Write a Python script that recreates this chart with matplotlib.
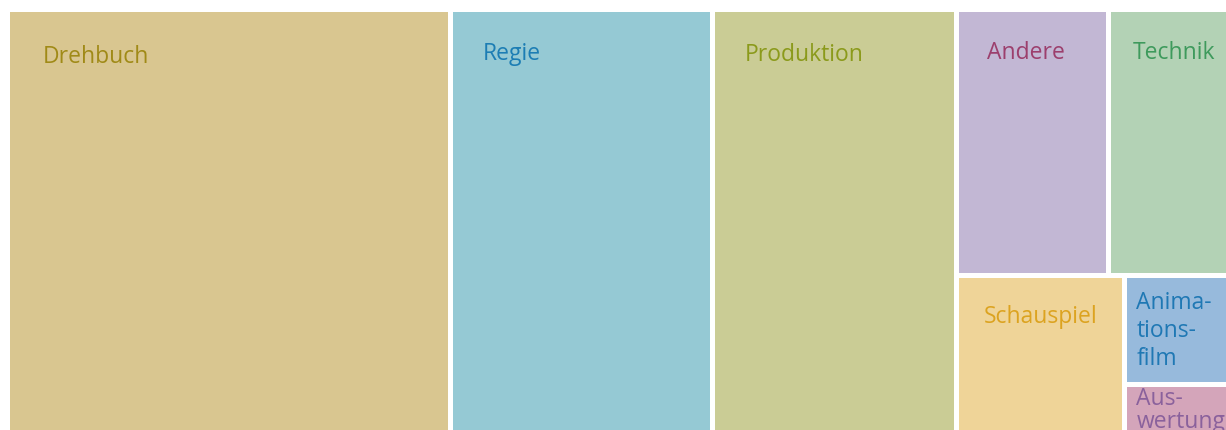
import matplotlib
matplotlib.use("Agg")
import matplotlib.pyplot as plt
from matplotlib.patches import Rectangle

# ---- data (in thousands) ----
names = ["Drehbuch", "Regie", "Produktion", "Andere", "Technik",
         "Schauspiel", "Animationsfilm", "Auswertung"]
values = [197.1, 116.6, 108.6, 40.4, 35.6, 30.2, 12.9, 8.2]
labels = ["Drehbuch", "Regie", "Produktion", "Andere", "Technik",
          "Schauspiel", "Anima-\ntions-\nfilm", "Aus-\nwertung"]

# nesting used by the treemap layout
tree = ["Drehbuch", "Regie", "Produktion",
        [["Andere", "Technik"],
         ["Schauspiel", ["Animationsfilm", "Auswertung"]]]]

# ---- style ----
fills = {"Drehbuch": "#D9C690", "Regie": "#95C9D4", "Produktion": "#CACC95",
         "Andere": "#C2B7D4", "Technik": "#B3D2B5", "Schauspiel": "#EFD498",
         "Animationsfilm": "#97BADC", "Auswertung": "#D4A5BA"}
tcolors = {"Drehbuch": "#A08A17", "Regie": "#1C7DB4", "Produktion": "#8B9A1B",
           "Andere": "#9C3F6D", "Technik": "#3E9A5C", "Schauspiel": "#DCA320",
           "Animationsfilm": "#1F78B4", "Auswertung": "#8A619C"}
# label offsets (x from left edge, first baseline from top edge, line step), px
loffs = {"Drehbuch": (33, 51, 0), "Regie": (30, 48, 0), "Produktion": (30, 49, 0),
         "Andere": (28, 47, 0), "Technik": (22, 47, 0), "Schauspiel": (25, 45, 0),
         "Animationsfilm": (9, 31, 28), "Auswertung": (9, 18, 23)}

val = dict(zip(names, values))
lab = dict(zip(names, labels))


def total(node):
    if isinstance(node, str):
        return val[node]
    return sum(total(n) for n in node)


cells = {}


def layout(node, x, y, w, h):
    if isinstance(node, str):
        cells[node] = (x, y, w, h)
        return
    s = total(node)
    if w >= h:
        for n in node:
            ww = w * total(n) / s
            layout(n, x, y, ww, h)
            x += ww
    else:
        for n in node:
            hh = h * total(n) / s
            layout(n, x, y, w, hh)
            y += hh


W_PX, H_PX = 1226, 430
fig = plt.figure(figsize=(W_PX / 100, H_PX / 100), dpi=100)
ax = fig.add_axes([0, 0, 1, 1])
ax.set_xlim(0, W_PX)
ax.set_ylim(H_PX, 0)
ax.axis("off")

# treemap extent (extends beyond the visible area like the reference)
layout(tree, 7.5, 9.5, 1235, 445)

gap = 2.5
for n in names:
    x, y, w, h = cells[n]
    ax.add_patch(Rectangle((x + gap, y + gap), w - 2 * gap, h - 2 * gap,
                           facecolor=fills[n], edgecolor="none"))
    dx, dy, step = loffs[n]
    for i, line in enumerate(lab[n].split("\n")):
        ax.text(x + gap + dx, y + gap + dy + i * step, line, color=tcolors[n],
                fontsize=16.5, family=["Open Sans", "DejaVu Sans"],
                ha="left", va="baseline")

fig.savefig("out.png", dpi=100)
